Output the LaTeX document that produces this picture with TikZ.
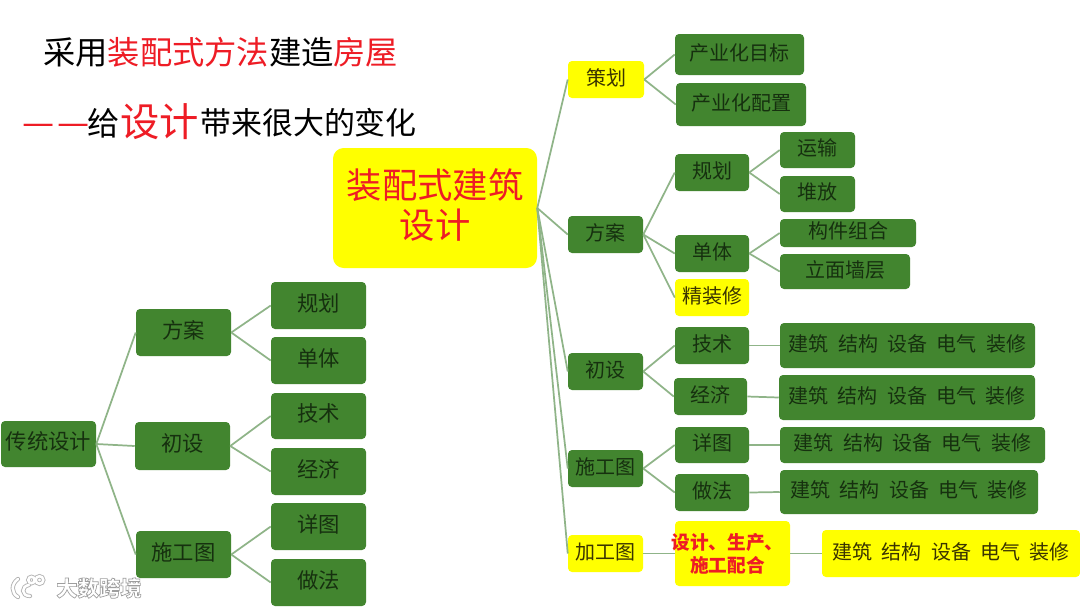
\documentclass[tikz,border=0pt]{standalone}
\usepackage{fontspec}
\setmainfont{Noto Sans CJK SC}
\definecolor{gfill}{HTML}{42852F}
\definecolor{gtext}{HTML}{16300F}
\definecolor{ytext}{HTML}{3A3400}
\definecolor{lk}{HTML}{8FB488}
\definecolor{ry}{HTML}{FFFF00}
\definecolor{rd}{HTML}{EE1C25}
\tikzset{
  rz/.style={text height=11pt,text depth=2.6pt},
  gbox/.style={fill=gfill,rounded corners=3pt,inner sep=0pt,text=gtext,font=\fontsize{15}{18}\selectfont,align=center,rz},
  gboxl/.style={gbox,font=\fontsize{16}{19}\selectfont},
  ybox/.style={fill=ry,rounded corners=3pt,inner sep=0pt,text=ytext,font=\fontsize{15}{18}\selectfont,align=center,rz},
  lnk/.style={draw=lk,line width=1.3pt},
  ttl/.style={inner sep=0pt,anchor=west,font=\fontsize{24.2}{28}\selectfont},
  wmo/.style={line cap=round,draw=black!30,line width=3.2pt},
  wmi/.style={line cap=round,draw=white,line width=1.9pt},
}
\newcommand\bx[7][]{\node[#2,minimum width={(#5-#3)*0.75pt},minimum height={(#6-#4)*0.75pt},#1] (#7) at ({(#3+#5)/2},{-(#4+#6)/2})}
\newcommand\disc{建筑\hspace{7pt}结构\hspace{7pt}设备\hspace{7pt}电气\hspace{7pt}装修}
\newcommand\logopath[1]{%
  \draw[#1] (18,-579) .. controls (11,-584) and (11,-593) .. (18,-597);
  \draw[#1] (29,-585) .. controls (21,-586) and (21,-596) .. (30,-596);
  \draw[#1] (31.5,-580) circle (3.2);
  \draw[#1] (39.5,-580) circle (3.8);
}
\begin{document}
\begin{tikzpicture}[x=0.75pt,y=0.75pt]
\useasboundingbox (0,0) rectangle (1080,-608);
\fill[white] (0,0) rectangle (1080,-608);
% titles
\node[ttl] (t1) at (43,-52) {采用\textcolor{rd}{装配式方法}建造\textcolor{rd}{房屋}};
\node[ttl,text=rd,font=\fontsize{27}{32}\selectfont] (t2a) at (22,-130) {—\hspace{2pt}—};
\node[ttl] (t2b) at (87,-123) {给};
\node[ttl,text=rd,font=\fontsize{29.5}{34}\selectfont] (t2c) at (120,-122) {设计};
\node[ttl,font=\fontsize{23.2}{28}\selectfont] (t2d) at (200,-123) {带来很大的变化};
% centre
\node[fill=ry,rounded corners=8pt,inner sep=0pt,minimum width=153pt,minimum height=90pt,text=rd,font=\fontsize{26.5}{29.5}\selectfont,align=center] (c) at (435,-208) {装配式建筑\\设计\par\vspace{4.5pt}};
% right tree
\bx{ybox}{568}{61}{644}{98}{a1}{策划};
\bx{gbox}{675}{34}{804}{75}{a11}{产业化目标};
\bx{gbox}{676}{83}{806}{126}{a12}{产业化配置};
\bx{gbox}{568}{216}{643}{253}{a2}{方案};
\bx{gbox}{675}{154}{749}{191}{a21}{规划};
\bx{gbox}{780}{132}{855}{168}{a211}{运输};
\bx{gbox}{780}{176}{855}{212}{a212}{堆放};
\bx{gbox}{675}{235}{749}{272}{a22}{单体};
\bx{gbox}{780}{219}{916}{247}{a221}{构件组合};
\bx{gbox}{780}{254}{910}{289}{a222}{立面墙层};
\bx{ybox}{675}{279}{749}{316}{a23}{精装修};
\bx{gbox}{568}{353}{643}{390}{a3}{初设};
\bx{gbox}{675}{327}{749}{364}{a31}{技术};
\bx{gbox}{780}{323}{1035}{368}{a311}{\disc};
\bx{gbox}{674}{378}{747}{415}{a32}{经济};
\bx{gbox}{779}{375}{1035}{420}{a321}{\disc};
\bx{gbox}{568}{450}{643}{487}{a4}{施工图};
\bx{gbox}{675}{427}{749}{463}{a41}{详图};
\bx{gbox}{780}{427}{1045}{463}{a411}{\disc};
\bx{gbox}{675}{474}{749}{511}{a42}{做法};
\bx{gbox}{780}{470}{1038}{514}{a421}{\disc};
\bx{ybox}{568}{535}{643}{572}{a5}{加工图};
\bx[text=rd,text height=,text depth=,font=\fontsize{14}{17.5}\selectfont\bfseries]{ybox}{675}{521}{790}{586}{a51}{\null\hspace*{-7.5pt}设计、生产、\\\null\hspace*{-7.5pt}施工配合};
\bx{ybox}{822}{530}{1080}{577}{a511}{\disc};
% left tree
\bx{gboxl}{1}{421}{96}{467}{b}{传统设计};
\bx{gboxl}{136}{309}{231}{356}{b1}{方案};
\bx{gboxl}{271}{282}{366}{329}{b11}{规划};
\bx{gboxl}{271}{337}{366}{384}{b12}{单体};
\bx{gboxl}{135}{422}{230}{470}{b2}{初设};
\bx{gboxl}{271}{393}{366}{439}{b21}{技术};
\bx{gboxl}{271}{448}{366}{495}{b22}{经济};
\bx{gboxl}{136}{531}{231}{578}{b3}{施工图};
\bx{gboxl}{271}{503}{366}{550}{b31}{详图};
\bx{gboxl}{271}{559}{366}{606}{b32}{做法};
% connectors
\foreach \s/\e in {c/a1,c/a2,c/a3,c/a4,c/a5,
  a1/a11,a1/a12,a2/a21,a2/a22,a2/a23,a21/a211,a21/a212,a22/a221,a22/a222,
  a3/a31,a3/a32,a31/a311,a32/a321,a4/a41,a4/a42,a41/a411,a42/a421,a5/a51,a51/a511,
  b/b1,b/b2,b/b3,b1/b11,b1/b12,b2/b21,b2/b22,b3/b31,b3/b32}
  \draw[lnk] (\s.east) -- (\e.west);
% watermark
\logopath{wmo}
\logopath{wmi}
\node[inner sep=0pt,anchor=west,text=white,font=\fontsize{16}{19}\selectfont\bfseries] (wm) at (56,-588) {\special{pdf:code 2 Tr 0.5 w 0.62 G}大数跨境\special{pdf:code 0 Tr}};
\end{tikzpicture}
\end{document}
